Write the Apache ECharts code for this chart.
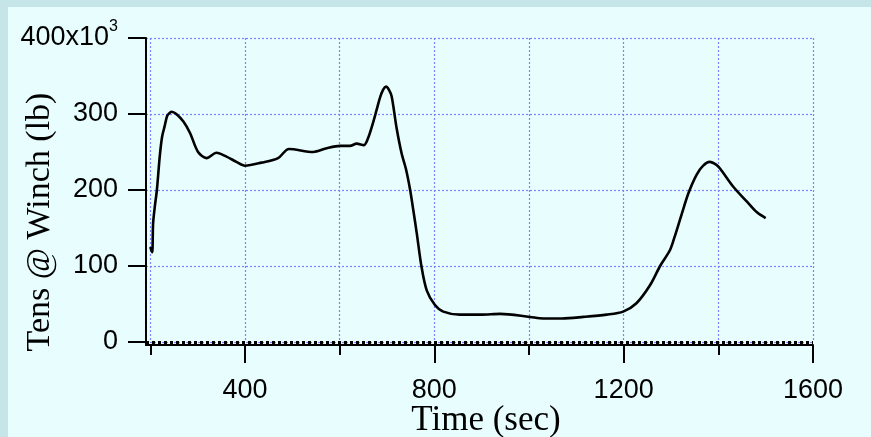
<!DOCTYPE html>
<html><head><meta charset="utf-8">
<script src="https://cdn.jsdelivr.net/npm/echarts@6/dist/echarts.min.js"></script>
<style>
html,body{margin:0;padding:0;}
#wrap{position:relative;width:871px;height:437px;background:#c5e5e8;overflow:hidden;}
#inner{position:absolute;left:8px;top:7px;right:0;bottom:0;background:#e8fdfd;}
#chart{position:absolute;left:0;top:0;width:871px;height:437px;}
</style></head><body>
<div id="wrap"><div id="inner"></div><div id="chart"></div></div>
<script>
// Time (sec)
const timeSec = [200,204,206,210,214,220,225,230,236,242,245,255,270,284,301,319,340,361,382,400,435,470,493,544,573,601,622,636,651,660,668,678,685,692,698,704,710,720,731,740,749,756,763,773,784,801,819,854,900,939,1002,1030,1070,1115,1164,1199,1227,1256,1277,1298,1308,1323,1337,1354,1368,1382,1396,1404,1432,1460,1481,1500];
// Tension at winch (x10^3 lb)
const tensionK = [125,118,156,180,200,244,270,283,298,302,303,300,290,275,250,242,249,244,237,232,236,242,254,250,255,258,258,261,259,268,283,305,321,332,336,332,323,283,248,228,200,172,143,99,68,49,40,36,36,37,33,31,31,33,36,40,51,75,100,121,139,169,196,220,232,237,233,228,204,185,171,163];
const xGridTicks = [200,400,600,800,1000,1200,1400,1600];
const xMajorTicks = [400,800,1200,1600];
const yTicks = [0,100,200,300,400];

const chart = echarts.init(document.getElementById('chart'), null, {renderer:'canvas'});
const black = '#000';
const gridColor = '#8080ff';
const labelFont = 'Liberation Sans';
const titleFont = 'Liberation Serif';

chart.setOption({
  animation: false,
  backgroundColor: 'transparent',
  grid: {left:146, right:58, top:38, bottom:95, containLabel:false},
  xAxis: [
    {type:'value', min:191, max:1600, position:'bottom', offset:3,
     axisLine:{show:true, onZero:false, lineStyle:{color:black, width:2}},
     axisTick:{show:true, customValues:xGridTicks, length:10, lineStyle:{color:black, width:2}},
     axisLabel:{show:false},
     splitLine:{show:true, lineStyle:{color:gridColor, width:1.2, type:[2,2]}}},
    {type:'value', min:191, max:1600, position:'bottom', offset:3,
     axisLine:{show:false, onZero:false},
     axisTick:{show:true, customValues:xMajorTicks, length:18, lineStyle:{color:black, width:2}},
     axisLabel:{show:true, customValues:xMajorTicks, fontSize:27, fontFamily:labelFont, color:black, margin:32,
       formatter: v => String(v)},
     splitLine:{show:false}}
  ],
  yAxis: {type:'value', min:0, max:400, interval:100,
    axisLine:{show:true, onZero:false, lineStyle:{color:black, width:2}},
    axisTick:{show:true, customValues:yTicks, length:18, lineStyle:{color:black, width:2}},
    axisLabel:{fontSize:27, fontFamily:labelFont, color:black, margin:28,
      formatter: v => v === 400 ? '400x10{s|3}' : String(v),
      rich:{s:{fontSize:16, fontFamily:labelFont, color:black, padding:[0,0,22,0]}}},
    splitLine:{show:true, lineStyle:{color:gridColor, width:1.2, type:[2,2]}}
  },
  graphic: [
    {type:'line', shape:{x1:146, y1:340, x2:146, y2:346}, style:{stroke:black, lineWidth:2}},
    {type:'text', x:486, y:421, style:{text:'Time (sec)', fontSize:35, fontFamily:titleFont, fill:black, align:'center', verticalAlign:'middle'}},
    {type:'text', x:40, y:222, rotation:Math.PI/2, style:{text:'Tens @ Winch (lb)', fontSize:34, fontFamily:titleFont, fill:black, align:'center', verticalAlign:'middle'}}
  ],
  series: [{
    type:'line', xAxisIndex:0, yAxisIndex:0,
    data: timeSec.map((t,i)=>[t, tensionK[i]]),
    showSymbol:false, smooth:0.3,
    lineStyle:{color:black, width:2.6},
    markLine:{silent:true, symbol:'none', label:{show:false},
      lineStyle:{color:black, width:3, type:[3,3]},
      data:[{yAxis:0}]}
  }]
});
</script>
</body></html>
